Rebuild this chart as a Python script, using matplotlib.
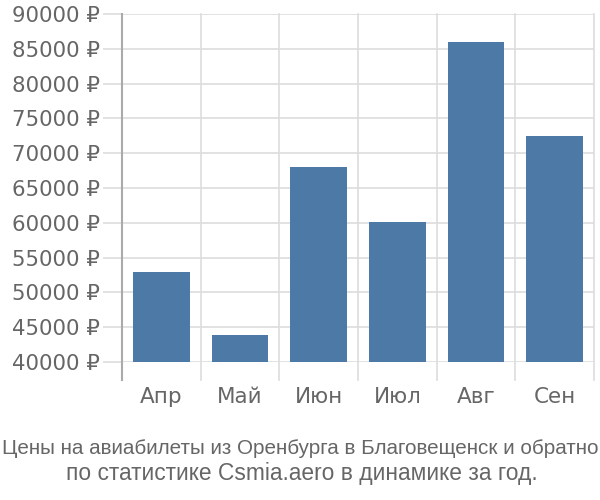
import matplotlib
matplotlib.use("Agg")
import matplotlib.pyplot as plt
import matplotlib.transforms as mtransforms
import numpy as np

plt.rcParams['font.family'] = ['DejaVu Sans']

categories = ["Апр", "Май", "Июн", "Июл", "Авг", "Сен"]
values = [52900, 43850, 68000, 60100, 86000, 72400]
yticks = list(range(40000, 90001, 5000))
ytick_labels = [f"{v} ₽" for v in yticks]
caption = ["Цены на авиабилеты из Оренбурга в Благовещенск и обратно",
           "по статистике Csmia.aero в динамике за год."]

W, H = 600, 500
fig = plt.figure(figsize=(6, 5), dpi=100)
L, R, T, B = 122, 594, 14, 362
ax = fig.add_axes([L / W, 1 - B / H, (R - L) / W, (B - T) / H])
ax.set_xlim(-0.5, len(categories) - 0.5)
ax.set_ylim(40000, 90000)

x = np.arange(len(categories))
ax.bar(x, values, width=0.72, color="#4d79a6", zorder=3)

for s in ax.spines.values():
    s.set_visible(False)

ax.set_yticks(yticks)
ax.set_yticklabels(ytick_labels)
ax.tick_params(axis='y', length=14, color="#dddddd", width=1.2, pad=2,
               labelsize=15.3, labelcolor="#666666")
ax.yaxis.grid(True, color="#dddddd", linewidth=1.2, zorder=0)

ax.set_xticks(x)
ax.set_xticklabels(categories)
ax.tick_params(axis='x', length=0, pad=18, labelsize=15.5, labelcolor="#666666")

ext = 18 / (B - T)
trans = mtransforms.blended_transform_factory(ax.transData, ax.transAxes)
for i, b in enumerate(np.arange(len(categories) + 1) - 0.5):
    ax.plot([b, b], [-ext, 1], transform=trans, clip_on=False,
            color="#aaaaaa" if i == 0 else "#dddddd",
            linewidth=1.5 if i == 0 else 1.2, zorder=1 if i else 4)

fam = ['Liberation Sans', 'DejaVu Sans']
renderer = fig.canvas.get_renderer()

def fit_text(s, xc, ybase, target_w, size):
    t = fig.text(xc / W, 1 - ybase / H, s, ha='center', va='baseline',
                 fontsize=size, color="#666666", family=fam)
    w = t.get_window_extent(renderer).width
    if w > target_w:
        t.set_fontsize(size * target_w / w)
    return t

fit_text(caption[0], 300, 454, 594, 15.5)
fit_text(caption[1], 302, 480, 492, 16.4)

fig.savefig("out.png", dpi=100)
